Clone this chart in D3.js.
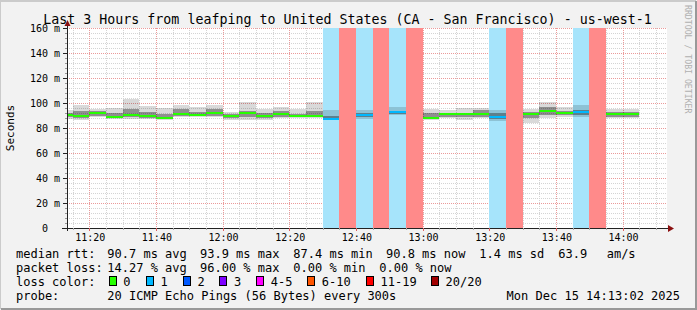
<!DOCTYPE html>
<html>
<head>
<meta charset="utf-8">
<script src="https://cdn.jsdelivr.net/npm/d3@7"></script>
<style>
  html, body { margin: 0; padding: 0; background: #f2f2f2; }
  svg { display: block; }
  text { font-family: "DejaVu Sans Mono", monospace; white-space: pre; }
</style>
</head>
<body>
<div id="chart"></div>
<script>
// 5 minute bins, first bin starts 11:10 (clipped by the graph start)
const binStart = new Date(2025, 11, 15, 11, 10, 0);
const binMinutes = 5;
const medianRtt = [90.4, 89.6, 92.4, 89.0, 90.7, 89.9, 88.0, 91.5, 90.7, 91.7, 89.9, 91.7, 89.9, 91.2, 89.9, 89.9,
  87.2, null, 90.4, null, 92.6, null, 87.7, 91.0, 91.0, 91.0, 89.0, null, 91.0, 93.6, 92.0, 92.6, null, 91.0, 91.0];
const rttMin = [87.0, 86.4, 88.5, 87.2, 87.0, 87.0, 86.4, 88.5, 89.0, 88.5, 86.4, 86.4, 86.4, 87.7, 87.7, 87.7,
  86.4, null, 87.0, null, 90.4, null, 86.4, 87.7, 86.4, 87.7, 86.0, null, 84.3, 87.7, 89.0, 89.0, null, 87.7, 87.7];
const rttLo = [88.8, 88.0, 90.0, 88.0, 88.5, 88.2, 87.2, 89.5, 89.6, 89.8, 88.0, 88.5, 88.0, 89.0, 88.8, 88.8,
  87.0, null, 88.5, null, 91.5, null, 87.0, 89.0, 88.5, 89.0, 87.5, null, 88.0, 90.5, 90.2, 90.8, null, 89.2, 89.2];
const rttHi = [92.2, 93.5, 93.6, 92.0, 95.0, 92.5, 91.0, 95.0, 93.0, 95.0, 91.5, 94.0, 92.0, 93.5, 91.5, 94.0,
  90.0, null, 92.0, null, 94.0, null, 92.0, 92.0, 92.0, 94.4, 92.0, null, 92.5, 97.0, 94.0, 94.5, null, 92.5, 92.5];
const rttMax = [94.4, 98.4, 94.9, 95.7, 103.4, 97.6, 95.7, 98.4, 96.6, 98.4, 93.0, 101.0, 94.9, 96.6, 94.9, 101.0,
  94.4, null, 94.4, null, 97.0, null, 94.9, 94.4, 95.7, 95.7, 94.4, null, 94.9, 101.0, 97.0, 98.4, null, 94.9, 94.9];
const lostPings = [0, 0, 0, 0, 0, 0, 0, 0, 0, 0, 0, 0, 0, 0, 0, 0,
  1, 19, 1, 19, 1, 19, 0, 0, 0, 0, 1, 19, 0, 0, 0, 1, 19, 0, 0];

const lossLabels = ["0", "1", "2", "3", "4-5", "6-10", "11-19", "20/20"];
const lossColors = ["#26ff00", "#00b8ff", "#0059ff", "#7e00ff", "#ff00ff", "#ff5500", "#ff0000", "#a10000"];
const lossBgColors = [null, "#a6e4fb", "#a6bdff", "#d3a6ff", "#ffa6ff", "#ffc0a6", "#ff8a8a", "#d9a6a6"];

const yTicks = [0, 20, 40, 60, 80, 100, 120, 140, 160];
const timeTicks = ["11:20", "11:40", "12:00", "12:20", "12:40", "13:00", "13:20", "13:40", "14:00"];

const title = "Last 3 Hours from leafping to United States (CA - San Francisco) - us-west-1";
const legendRows = [
  [["median rtt:", 16], ["90.7 ms avg", 107.3], ["93.9 ms max", 200], ["87.4 ms min", 293.3], ["90.8 ms now", 386], ["1.4 ms sd", 479.3], ["63.9", 558.3], ["am/s", 606.7]],
  [["packet loss:", 16], ["14.27 % avg", 107.3], ["96.00 % max", 200], ["0.00 % min", 293.3], ["0.00 % now", 379.3]],
  [["loss color:", 16]],
  [["probe:", 16], ["20 ICMP Echo Pings (56 Bytes) every 300s", 107.3]]
];
const lossLegendX = [108.5, 145.7, 182.7, 219.3, 256, 307, 365.7, 430.7];
const stamp = "Mon Dec 15 14:13:02 2025";

const W = 697, H = 310;
const plot = { left: 67, right: 667, top: 28, bottom: 228 };

function lossBucket(n) {
  if (n <= 3) return n;
  if (n <= 5) return 4;
  if (n <= 10) return 5;
  if (n <= 19) return 6;
  return 7;
}

const svg = d3.select("#chart").append("svg").attr("width", W).attr("height", H);

// canvas + rrdtool shading frame
svg.append("rect").attr("width", W).attr("height", H).attr("fill", "#f2f2f2");
svg.append("path").attr("d", `M0,${H - 1} V1 H${W - 1}`).attr("stroke", "#cbcbcb").attr("stroke-width", 2).attr("fill", "none");
svg.append("path").attr("d", `M1,${H - 1} H${W - 1} V1`).attr("stroke", "#999").attr("stroke-width", 2).attr("fill", "none");

const tEnd = new Date(2025, 11, 15, 14, 13, 2);
const tStart = new Date(tEnd.getTime() - 3 * 3600 * 1000);
const x = d3.scaleTime().domain([tStart, tEnd]).range([66, 666]);
const y = d3.scaleLinear().domain([0, 160]).range([plot.bottom, plot.top]);

const bins = medianRtt.map((m, i) => {
  const t0 = new Date(binStart.getTime() + i * binMinutes * 60000);
  const t1 = new Date(t0.getTime() + binMinutes * 60000);
  return {
    x0: Math.max(plot.left, x(t0)), x1: x(t1),
    median: m, min: rttMin[i], lo: rttLo[i], hi: rttHi[i], max: rttMax[i],
    bucket: lossBucket(lostPings[i])
  };
});

// plot background
svg.append("rect").attr("x", plot.left).attr("y", plot.top)
  .attr("width", plot.right - plot.left).attr("height", plot.bottom - plot.top).attr("fill", "#fff");

// grid
const grid = svg.append("g").attr("shape-rendering", "crispEdges");
const minorY = d3.range(0, 161, 4).filter(v => v % 20 !== 0);
grid.selectAll(".hmin").data(minorY).join("line")
  .attr("x1", plot.left).attr("x2", plot.right)
  .attr("y1", d => Math.round(y(d)) + 0.5).attr("y2", d => Math.round(y(d)) + 0.5)
  .attr("stroke", "#d4d4d4").attr("stroke-dasharray", "1,1");
const minorX = d3.timeMinute.every(5).range(tStart, tEnd).filter(t => t.getMinutes() % 20 !== 0);
grid.selectAll(".vmin").data(minorX).join("line")
  .attr("y1", plot.top).attr("y2", plot.bottom)
  .attr("x1", d => Math.round(x(d)) + 0.5).attr("x2", d => Math.round(x(d)) + 0.5)
  .attr("stroke", "#d4d4d4").attr("stroke-dasharray", "1,1");
grid.selectAll(".hmaj").data(yTicks.slice(1)).join("line")
  .attr("x1", plot.left).attr("x2", plot.right)
  .attr("y1", d => Math.round(y(d)) + 0.5).attr("y2", d => Math.round(y(d)) + 0.5)
  .attr("stroke", "#eb9a9a").attr("stroke-dasharray", "1,1");
const majorX = timeTicks.map(s => d3.timeParse("%H:%M")(s)).map(t => new Date(2025, 11, 15, t.getHours(), t.getMinutes()));
grid.selectAll(".vmaj").data(majorX).join("line")
  .attr("y1", plot.top).attr("y2", plot.bottom)
  .attr("x1", d => Math.round(x(d)) + 0.5).attr("x2", d => Math.round(x(d)) + 0.5)
  .attr("stroke", "#eb9a9a").attr("stroke-dasharray", "1,1");

// loss background columns
const data = svg.append("g").attr("shape-rendering", "crispEdges");
data.selectAll(".lossbg").data(bins.filter(b => b.bucket > 0)).join("rect")
  .attr("x", d => Math.round(d.x0)).attr("width", d => Math.round(d.x1) - Math.round(d.x0))
  .attr("y", plot.top).attr("height", plot.bottom - plot.top)
  .attr("fill", d => lossBgColors[d.bucket]);

// smoke
const valid = bins.filter(b => b.median != null);
data.selectAll(".smoke").data(valid).join("rect")
  .attr("x", d => Math.round(d.x0)).attr("width", d => Math.round(d.x1) - Math.round(d.x0))
  .attr("y", d => y(d.max)).attr("height", d => y(d.min) - y(d.max))
  .attr("fill", "#000").attr("fill-opacity", 0.15);
data.selectAll(".smoke2").data(valid).join("rect")
  .attr("x", d => Math.round(d.x0)).attr("width", d => Math.round(d.x1) - Math.round(d.x0))
  .attr("y", d => y(d.hi)).attr("height", d => y(d.lo) - y(d.hi))
  .attr("fill", "#000").attr("fill-opacity", 0.34);

// median
data.selectAll(".median").data(valid).join("line")
  .attr("x1", d => Math.round(d.x0)).attr("x2", d => Math.round(d.x1))
  .attr("y1", d => Math.round(y(d.median))).attr("y2", d => Math.round(y(d.median)))
  .attr("stroke", d => lossColors[d.bucket]).attr("stroke-width", 2);

// axes
const axis = svg.append("g").attr("shape-rendering", "crispEdges");
axis.append("line").attr("x1", 62).attr("x2", 670).attr("y1", plot.bottom + 0.5).attr("y2", plot.bottom + 0.5).attr("stroke", "#222");
axis.append("line").attr("x1", plot.left + 0.5).attr("x2", plot.left + 0.5).attr("y1", plot.bottom + 3).attr("y2", 24).attr("stroke", "#222");
svg.append("path").attr("d", "M64.5,26 L70.5,26 L67.5,20 Z").attr("fill", "#8b1010");
svg.append("path").attr("d", "M668,225 L668,232 L674,228.5 Z").attr("fill", "#8b1010");

axis.selectAll(".ytick").data(yTicks).join("line")
  .attr("x1", 63).attr("x2", plot.left)
  .attr("y1", d => Math.round(y(d)) + 0.5).attr("y2", d => Math.round(y(d)) + 0.5)
  .attr("stroke", "#222");
axis.selectAll(".ymin").data(minorY).join("line")
  .attr("x1", 65).attr("x2", plot.left)
  .attr("y1", d => Math.round(y(d)) + 0.5).attr("y2", d => Math.round(y(d)) + 0.5)
  .attr("stroke", "#999");
axis.selectAll(".xtick").data(majorX).join("line")
  .attr("y1", plot.bottom).attr("y2", plot.bottom + 3)
  .attr("x1", d => Math.round(x(d)) + 0.5).attr("x2", d => Math.round(x(d)) + 0.5)
  .attr("stroke", "#e06060");
axis.selectAll(".xmin").data(minorX).join("line")
  .attr("y1", plot.bottom).attr("y2", plot.bottom + 2)
  .attr("x1", d => Math.round(x(d)) + 0.5).attr("x2", d => Math.round(x(d)) + 0.5)
  .attr("stroke", "#aaa");

svg.selectAll(".ylab").data(yTicks).join("text")
  .attr("x", 60).attr("y", d => y(d) + 3.5)
  .attr("text-anchor", "end").attr("font-size", 10).attr("fill", "#000")
  .text(d => d === 0 ? "0  " : d + " m");

svg.selectAll(".xlab").data(majorX).join("text")
  .attr("x", d => x(d) + 1).attr("y", 241)
  .attr("text-anchor", "middle").attr("font-size", 10).attr("fill", "#000")
  .text((d, i) => timeTicks[i]);

// titles
svg.append("text").attr("x", 347.5).attr("y", 23.5).attr("text-anchor", "middle")
  .attr("font-size", 13.3).attr("fill", "#000").text(title);
svg.append("text").attr("transform", "translate(14,128) rotate(-90)").attr("text-anchor", "middle")
  .attr("font-size", 11).attr("fill", "#000").text("Seconds");
svg.append("text").attr("transform", "translate(685,5) rotate(90)")
  .attr("font-size", 8.2).attr("fill", "#b0b0b0").text("RRDTOOL / TOBI OETIKER");

// legend
const rowY = [258, 272, 286, 300];
legendRows.forEach((row, r) => {
  svg.selectAll(null).data(row).join("text")
    .attr("x", d => d[1]).attr("y", rowY[r])
    .attr("font-size", 12).attr("fill", "#000").text(d => d[0]);
});
svg.selectAll(".lbox").data(lossColors).join("rect")
  .attr("x", (d, i) => lossLegendX[i] + 0.5).attr("y", 276.5)
  .attr("width", 7).attr("height", 9)
  .attr("fill", d => d).attr("stroke", "#000").attr("shape-rendering", "crispEdges");
svg.selectAll(".llab").data(lossLabels).join("text")
  .attr("x", (d, i) => lossLegendX[i] + 14.8).attr("y", rowY[2])
  .attr("font-size", 12).attr("fill", "#000").text(d => d);
svg.append("text").attr("x", 680).attr("y", rowY[3]).attr("text-anchor", "end")
  .attr("font-size", 12).attr("fill", "#000").text(stamp);
</script>
</body>
</html>
